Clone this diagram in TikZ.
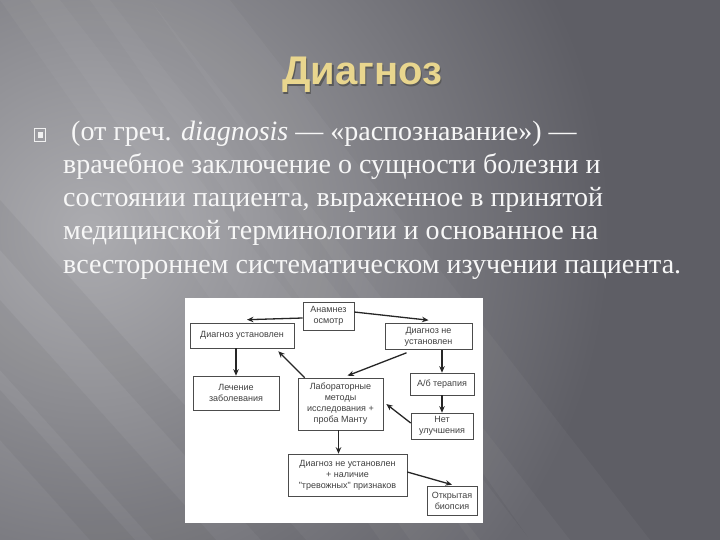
\documentclass[tikz,border=0pt]{standalone}
\usepackage{fontspec}
\setmainfont{Liberation Serif}
\newfontfamily\titlefont{Liberation Sans}
\newfontfamily\boxfont{Liberation Sans}
\usetikzlibrary{arrows,arrows.meta,calc,positioning}
\definecolor{gold}{HTML}{E9D68E}
\definecolor{bglight}{HTML}{ACACB0}
\definecolor{bgdark}{HTML}{5E5E65}
\tikzset{blk/.style={draw=black!70, line width=0.6pt, fill=white, align=center, text=black!75, font=\boxfont\fontsize{9}{11}\selectfont, inner sep=1pt}}
\tikzstyle{txt}=[anchor=base west, text=white!94!gray, font=\fontsize{28}{33}\selectfont, inner sep=0pt]
\tikzstyle{arr}=[->, line width=1.3pt, black!85]

\begin{document}
\begin{tikzpicture}[x=1pt, y=-1pt, >={Stealth[length=6.5pt,width=5.5pt]}]
\useasboundingbox (0,0) rectangle (720,540);
% background
\fill[bgdark] (0,0) rectangle (720,540);
\begin{scope}
\clip (0,0) rectangle (720,540);
\shade[inner color=bglight, outer color=bgdark] (90,230) circle (520);
\end{scope}
\foreach \a/\b in {0/60, 30/110, 90/150, 150/230}
  \fill[white, opacity=0.035] (\a,0) -- (\b,0) -- ({\b+420},540) -- ({\a+380},540) -- cycle;
\foreach \a/\b in {200/250, 300/370, 390/440}
  \fill[black, opacity=0.04] (0,\a) -- (0,\b) -- ({(540-\b)*0.9},540) -- ({(540-\a)*0.9},540) -- cycle;

% title
\node[font=\titlefont\bfseries\fontsize{40}{44}\selectfont, text=black!65, anchor=base] at (363.5,86.5) {Диагноз};
\node[font=\titlefont\bfseries\fontsize{40}{44}\selectfont, text=gold, anchor=base] (title) at (362,85) {Диагноз};

% bullet
\draw[white!88!gray, line width=1pt] (34.5,128.5) rectangle (45.5,141.5);
\fill[white!88!gray] (37.5,132) rectangle (42.5,138);

% text
\node[txt] (L1) at (71,141) {(от греч. \textit{diagnosis} — «распознавание») —};
\node[txt] (L2) at (63,174) {врачебное заключение о сущности болезни и};
\node[txt] (L3) at (63,207) {состоянии пациента, выраженное в принятой};
\node[txt] (L4) at (63,240) {медицинской терминологии и основанное на};
\node[txt] (L5) at (63,273) {всестороннем систематическом изучении пациента.};

% scheme
\fill[white] (185,298) rectangle (483,523);
\node[blk, minimum width=51pt, minimum height=28pt] (A0) at (328.5,316) {Анамнез\\осмотр};
\node[blk, minimum width=104pt, minimum height=25pt] (D1) at (242,335.5) {Диагноз установлен};
\node[blk, minimum width=87pt, minimum height=26pt] (D2) at (428.5,336.5) {Диагноз не\\установлен};
\node[blk, minimum width=86pt, minimum height=34pt] (L0) at (236,393) {Лечение\\заболевания};
\node[blk, minimum width=85pt, minimum height=52pt] (M1) at (340.5,404) {Лабораторные\\методы\\исследования +\\проба Манту};
\node[blk, minimum width=64pt, minimum height=22pt] (T1) at (442,384) {А/б терапия};
\node[blk, minimum width=62pt, minimum height=26pt] (N1) at (442,426) {Нет\\улучшения};
\node[blk, minimum width=119pt, minimum height=42pt] (D3) at (347.5,475) {Диагноз не установлен\\+ наличие\\"тревожных" признаков};
\node[blk, minimum width=50pt, minimum height=29pt] (B1) at (452,500.5) {Открытая\\биопсия};

\path[arr] ([yshift=-2pt]A0.west) edge ([xshift=5pt,yshift=3pt]D1.north)
	([yshift=4pt]A0.east) edge ([yshift=3pt]D2.north)
	(D1.south -| L0.north) edge (L0.north)
	([xshift=7pt]M1.north west) edge ([xshift=-16pt,yshift=-3pt]D1.south east)
	([xshift=-22pt,yshift=-3pt]D2.south) edge ([xshift=7pt,yshift=2pt]M1.north)
	(D2.south -| T1.north) edge (T1.north)
	(T1.south) edge (N1.north)
	([yshift=3pt]N1.west) edge ([xshift=3pt]M1.east)
	([xshift=-2pt]M1.south) edge ([xshift=-2pt]M1.south |- D3.north)
	([yshift=3pt]D3.east) edge ([yshift=1pt]B1.north)
;
\end{tikzpicture}
\end{document}
